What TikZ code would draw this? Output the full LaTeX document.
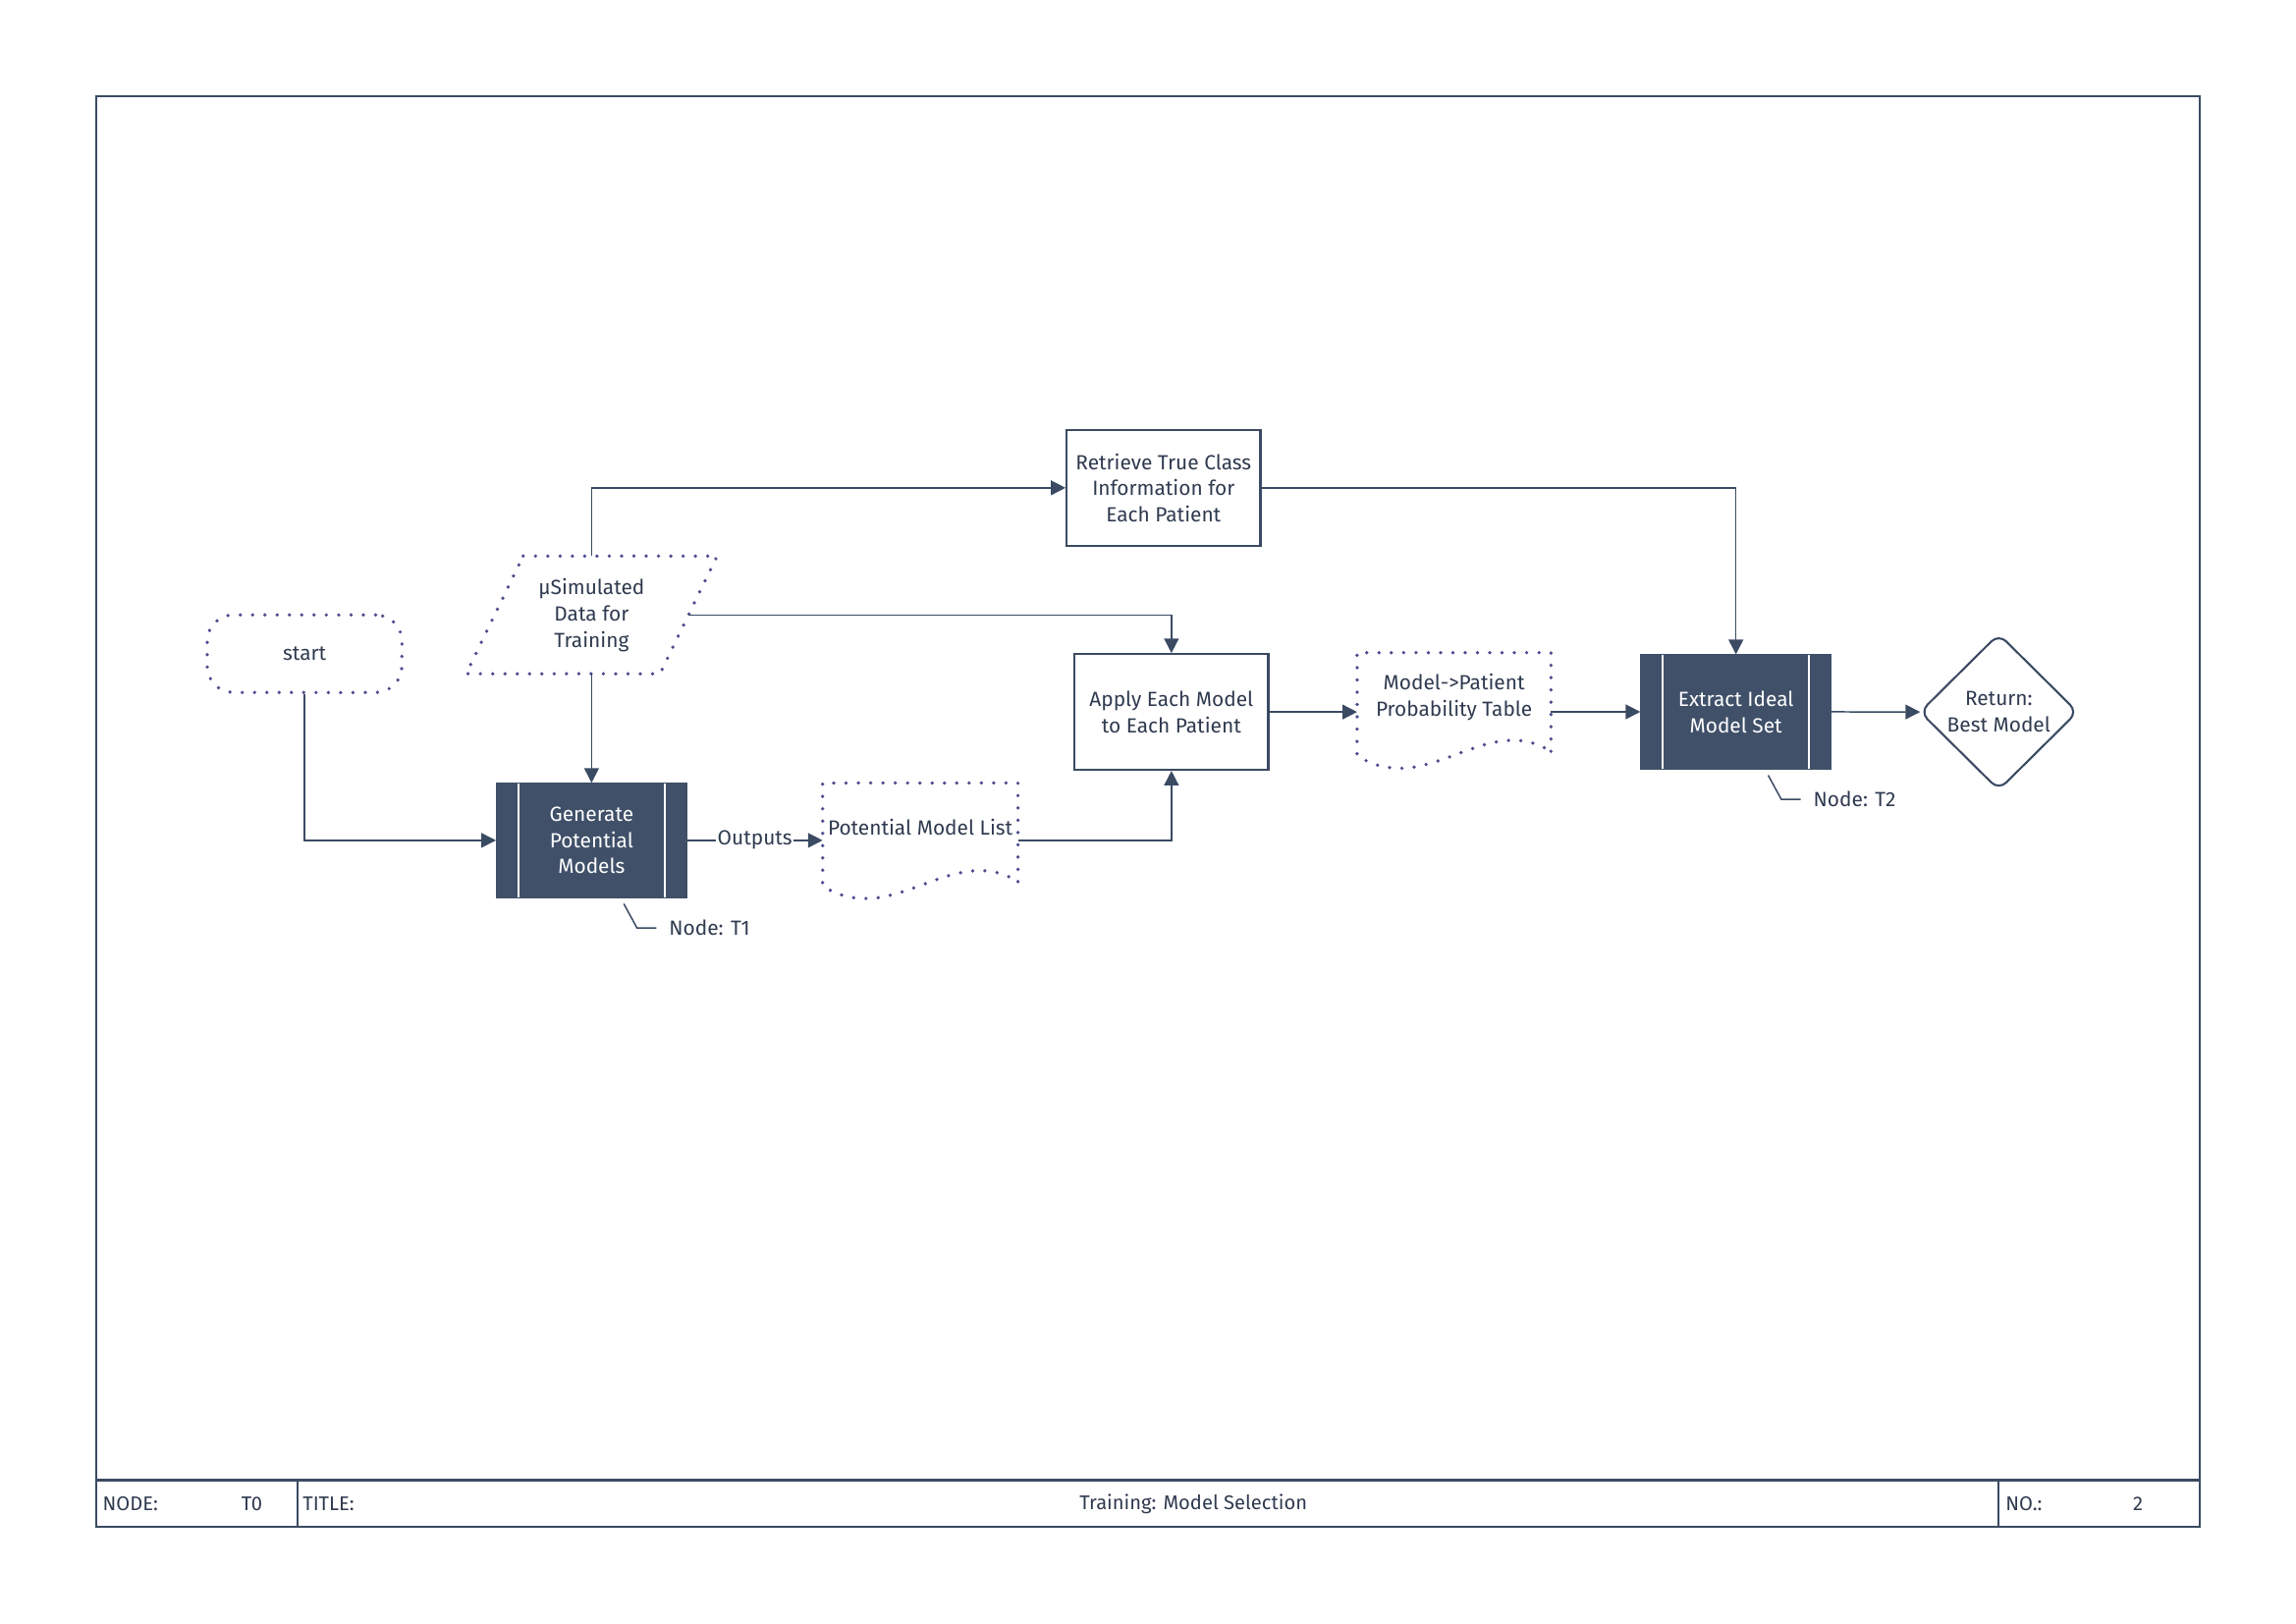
\documentclass[tikz,border=0pt]{standalone}
\usepackage{fontspec}
\setmainfont{Fira Sans}
\usetikzlibrary{arrows.meta,calc}
\definecolor{ink}{HTML}{3B4A63}
\definecolor{boxfill}{HTML}{405069}
\definecolor{dotc}{HTML}{4B4C8E}
\definecolor{txt}{HTML}{2F3A4F}

% document shape: straight top and sides, wavy bottom below the text area
\newcommand\docoutline[1]{%
  \draw[dotline] ($(#1.south east)+(0,7)$) -- (#1.north east) -- (#1.north west)
    -- ($(#1.south west)+(0,10)$)
    .. controls ($(#1.south west)+(48,40)$) and ($(#1.south east)+(-45,-21)$) ..
    ($(#1.south east)+(0,7)$);}

\begin{document}
\begin{tikzpicture}[x=1pt,y=-1pt,
  font=\fontsize{14}{18}\selectfont, text=txt,
  conn/.style={draw=ink, line width=1pt, -{Triangle[length=10pt,width=10pt]}},
  plain/.style={draw=ink, line width=1pt},
  dotline/.style={draw=dotc, line width=2.5pt, line cap=round, dash pattern=on 0pt off 8.4pt},
  holder/.style={inner sep=0pt, align=center},
  plainbox/.style={holder, draw=ink, line width=1.4pt},
  procbox/.style={holder, fill=boxfill, draw=boxfill, line width=0.6pt, text=white,
    path picture={
      \draw[white, line width=1.5pt]
        ([xshift=15pt]path picture bounding box.north west) -- ([xshift=15pt]path picture bounding box.south west)
        ([xshift=-15pt]path picture bounding box.north east) -- ([xshift=-15pt]path picture bounding box.south east);}},
  annot/.style={inner sep=0pt, anchor=west},
  barlabel/.style={inner sep=0pt, font=\fontsize{13.5}{16}\selectfont}
]
\useasboundingbox (0,0) rectangle (1568,1109);

% sheet frame and title bar
\draw[ink, line width=1.4pt] (66,66) rectangle (1502,1043);
\draw[ink, line width=1.4pt] (66,1011) -- (1502,1011)
  (203,1011) -- (203,1043) (1365,1011) -- (1365,1043);
\node[barlabel, anchor=west] (nodelbl) at (70,1027) {NODE:};
\node[barlabel] (nodeval) at (172,1027) {T0};
\node[barlabel, anchor=west] (titlelbl) at (206.6,1027) {TITLE:};
\node[barlabel] (titleval) at (815,1027) {Training: Model Selection};
\node[barlabel, anchor=west] (nolbl) at (1369.6,1027) {NO.:};
\node[barlabel] (noval) at (1460,1027) {2};

% nodes
\node[holder, dotline, rounded corners=18pt, minimum width=133pt, minimum height=53pt]
  (start) at (208,446.5) {start};
\node[holder, minimum width=132pt, minimum height=80pt] (data) at (404,420)
  {µSimulated\\Data for\\Training};
\draw[dotline] ($(data.north west)+(19.5,0)$) -- ($(data.north east)+(19.5,0)$)
  -- ($(data.south east)+(-19.5,0)$) -- ($(data.south west)+(-19.5,0)$) -- cycle;

\node[procbox, minimum width=130pt, minimum height=78pt] (gen) at (404,574)
  {Generate\\Potential\\Models};
\node[holder, minimum width=133pt, minimum height=60pt] (pml) at (628.5,565)
  {Potential Model List};
\docoutline{pml}

\node[plainbox, minimum width=132.4pt, minimum height=79.4pt] (retr) at (794.6,333.2)
  {Retrieve True Class\\Information for\\Each Patient};
\node[plainbox, minimum width=132.3pt, minimum height=79pt] (apply) at (800,486.3)
  {Apply Each Model\\to Each Patient};
\node[holder, minimum width=132pt, minimum height=60pt] (mpt) at (993,476)
  {Model->Patient\\Probability Table};
\docoutline{mpt}

\node[procbox, minimum width=130pt, minimum height=78pt] (ext) at (1185.5,486.2)
  {Extract Ideal\\Model Set};
\node[holder, minimum width=107pt, minimum height=106pt] (ret) at (1365,486.3)
  {Return:\\Best Model};
\draw[ink, line width=1.4pt, rounded corners=7pt]
  ($(ret.north)!0.5!(ret.east)$) -- (ret.east) -- (ret.south) -- (ret.west)
  -- (ret.north) -- cycle;

% node annotations
\coordinate (t1a) at ($(gen.south)+(22,4)$);
\node[annot] (t1) at ($(gen.south)+(52.8,20.5)$) {Node: T1};
\draw[plain] (t1a) -- ++(9,16.5) -- ([xshift=-8.5pt]t1.west);
\coordinate (t2a) at ($(ext.south)+(22,4)$);
\node[annot] (t2) at ($(ext.south)+(52.8,20.5)$) {Node: T2};
\draw[plain] (t2a) -- ++(9,16.5) -- ([xshift=-8.5pt]t2.west);

% connectors
\draw[conn] (start.south) |- (gen.west);
\draw[conn] (data.south) -- (gen.north);
\draw[conn] (data.north) |- (retr.west);
\draw[conn] (data.east) -| (apply.north);
\draw[conn] (gen.east) -- node[fill=white, inner sep=1pt] (outlbl) {Outputs} (gen.east -| pml.west);
\draw[conn] (gen.east -| pml.east) -| (apply.south);
\draw[conn] (retr.east) -| (ext.north);
\draw[conn] (apply.east) -- (apply.east -| mpt.west);
\draw[conn] (ext.west -| mpt.east) -- (ext.west);
\draw[conn] (ext.east) -- (ret.west);
\end{tikzpicture}
\end{document}
